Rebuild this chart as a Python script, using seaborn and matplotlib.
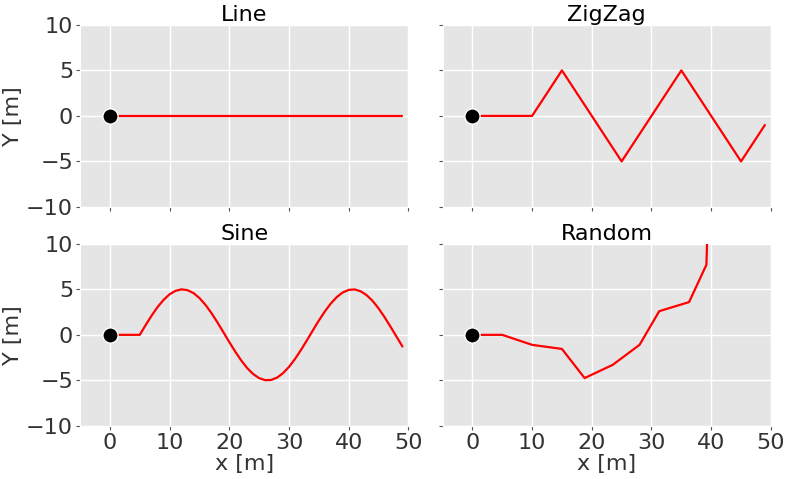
import matplotlib
matplotlib.use("Agg")
from matplotlib import pyplot as plt
import pandas as pd
import seaborn as sns

# trajectories
line_x = [0, 49]
line_y = [0, 0]

zigzag_x = [0, 10, 15, 25, 35, 45, 49]
zigzag_y = [0, 0, 5, -5, 5, -5, -1]

sine_x = [0, 5, 6, 7, 8, 9, 10, 11, 12, 13, 14, 15, 16, 17, 18, 19, 20,
          21, 22, 23, 24, 25, 26, 27, 28, 29, 30, 31, 32, 33, 34, 35, 36,
          37, 38, 39, 40, 41, 42, 43, 44, 45, 46, 47, 48, 49]
sine_y = [0, 0, 1.09, 2.13, 3.07, 3.85, 4.46, 4.84, 5.00, 4.91, 4.59, 4.04,
          3.30, 2.40, 1.38, 0.30, -0.80, -1.85, -2.82, -3.66, -4.31, -4.76,
          -4.98, -4.96, -4.70, -4.21, -3.52, -2.66, -1.67, -0.60, 0.50, 1.57,
          2.57, 3.44, 4.15, 4.66, 4.94, 4.99, 4.79, 4.36, 3.73, 2.91, 1.95,
          0.90, -0.19, -1.28]

random_x = [0, 5, 10, 15, 18.8, 23.5, 28, 31.3, 36.3, 39.2, 39.4]
random_y = [0, 0, -1.1, -1.55, -4.75, -3.3, -1.1, 2.6, 3.6, 7.7, 12]

titles = ["Line", "ZigZag", "Sine", "Random"]
paths = [(line_x, line_y), (zigzag_x, zigzag_y), (sine_x, sine_y), (random_x, random_y)]

sns.set_style("darkgrid", {
    "axes.facecolor": "#E5E5E5",
    "grid.color": "white",
    "xtick.bottom": True,
    "ytick.left": True,
    "xtick.color": "#555555",
    "ytick.color": "#555555",
})
plt.rcParams["font.family"] = ["DejaVu Sans"]
plt.rcParams["xtick.major.size"] = 3
plt.rcParams["ytick.major.size"] = 3

fig, axes = plt.subplots(2, 2, figsize=(7.85, 4.79), dpi=100, sharex=True, sharey=True)
fig.subplots_adjust(left=0.102, right=0.982, top=0.948, bottom=0.111, wspace=0.104, hspace=0.203)

for ax, title, (px, py) in zip(axes.flat, titles, paths):
    df = pd.DataFrame({"x": px, "y": py})
    sns.lineplot(data=df, x="x", y="y", ax=ax, color="red", linewidth=1.6,
                 sort=False, estimator=None, zorder=3)
    sns.scatterplot(x=[0], y=[0], ax=ax, color="black", s=120,
                    edgecolor="white", linewidth=1, zorder=4)
    ax.set_title(title, fontsize=16, color="black", pad=3)
    ax.set_xlim(-5, 50)
    ax.set_ylim(-10, 10)
    ax.set_xticks([0, 10, 20, 30, 40, 50])
    ax.set_yticks([-10, -5, 0, 5, 10])
    ax.tick_params(labelsize=16, labelcolor="#333333", pad=2)
    ax.grid(True, color="white", linewidth=1)
    ax.set_xlabel("")
    ax.set_ylabel("")

for ax in axes[:, 0]:
    ax.set_ylabel("Y [m]", fontsize=16, color="#333333", labelpad=2)
for ax in axes[1, :]:
    ax.set_xlabel("x [m]", fontsize=16, color="#333333", labelpad=1)

fig.savefig("out.png", dpi=100)
